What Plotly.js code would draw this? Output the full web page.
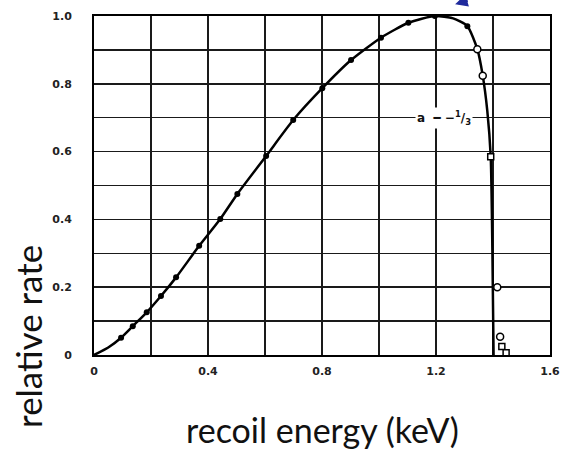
<!DOCTYPE html>
<html>
<head>
<meta charset="utf-8">
<script src="https://cdn.plot.ly/plotly-3.0.1.min.js"></script>
<style>html,body{margin:0;padding:0;background:#fff;}#chart{width:561px;height:451px;}</style>
</head>
<body>
<div id="chart"></div>
<script>
// Curve
const curveX = [0, 0.05, 0.095, 0.136, 0.185, 0.235, 0.288, 0.369, 0.443, 0.503, 0.604, 0.699, 0.801, 0.902, 1.007, 1.103, 1.196, 1.26, 1.31, 1.345, 1.364, 1.38, 1.392, 1.398, 1.402];
const curveY = [0, 0.022, 0.051, 0.085, 0.126, 0.174, 0.229, 0.322, 0.401, 0.475, 0.587, 0.693, 0.787, 0.870, 0.936, 0.980, 1.0, 0.993, 0.970, 0.902, 0.824, 0.72, 0.585, 0.3, 0];
// Filled circle data points
const filledX = [0.095, 0.136, 0.185, 0.235, 0.288, 0.369, 0.443, 0.503, 0.604, 0.699, 0.801, 0.902, 1.007, 1.103, 1.196, 1.31];
const filledY = [0.051, 0.085, 0.126, 0.174, 0.229, 0.322, 0.401, 0.475, 0.587, 0.693, 0.787, 0.870, 0.936, 0.980, 1.0, 0.970];
// Open circle data points
const openCircX = [1.345, 1.364, 1.415, 1.425];
const openCircY = [0.902, 0.824, 0.200, 0.054];
// Open square data points
const openSqX = [1.392, 1.431, 1.446];
const openSqY = [0.585, 0.025, 0.007];
// Tick labels
const xTickVals = [0, 0.4, 0.8, 1.2, 1.6];
const xTickText = ["0", "0.4", "0.8", "1.2", "1.6"];
const yTickVals = [0, 0.2, 0.4, 0.6, 0.8, 1.0];
const yTickText = ["0", "0.2", "0.4", "0.6", "0.8", "1.0"];

const traces = [
  {x: curveX, y: curveY, type: 'scatter', mode: 'lines',
   line: {color: '#000', width: 2.5, shape: 'spline', smoothing: 0.6}, hoverinfo: 'skip'},
  {x: filledX, y: filledY, type: 'scatter', mode: 'markers',
   marker: {symbol: 'circle', size: 6, color: '#000'}},
  {x: openCircX, y: openCircY, type: 'scatter', mode: 'markers',
   marker: {symbol: 'circle', size: 7, color: '#fff', line: {color: '#000', width: 1.5}}},
  {x: openSqX, y: openSqY, type: 'scatter', mode: 'markers',
   marker: {symbol: 'square', size: 6, color: '#fff', line: {color: '#000', width: 1.5}}}
];

const tickFont = {family: 'DejaVu Sans, sans-serif', size: 11, color: '#222', weight: 'bold'};
const gridCol = '#1a1a1a';

const layout = {
  width: 561, height: 451,
  margin: {l: 94, r: 11, t: 16, b: 96},
  paper_bgcolor: '#fff', plot_bgcolor: '#fff',
  showlegend: false,
  xaxis: {
    range: [0, 1.6], tickvals: xTickVals, ticktext: xTickText,
    showgrid: true, gridcolor: gridCol, gridwidth: 1.5,
    minor: {tickvals: [0.2, 0.6, 1.0, 1.4], showgrid: true, gridcolor: gridCol, gridwidth: 1.5},
    showline: true, linecolor: '#000', linewidth: 2, mirror: true,
    zeroline: false, ticks: '', ticklabelstandoff: 5,
    tickfont: tickFont, fixedrange: true
  },
  yaxis: {
    range: [0, 1.0], tickvals: yTickVals, ticktext: yTickText,
    showgrid: true, gridcolor: gridCol, gridwidth: 1.5,
    minor: {tickvals: [0.1, 0.3, 0.5, 0.7, 0.9], showgrid: true, gridcolor: gridCol, gridwidth: 1.5},
    showline: true, linecolor: '#000', linewidth: 2, mirror: true,
    zeroline: false, ticks: '', ticklabelstandoff: 18,
    tickfont: tickFont, fixedrange: true
  },
  annotations: [
    {xref: 'x', yref: 'y', x: 1.228, y: 0.70, xanchor: 'center', yanchor: 'middle',
     text: '<b>a  ━ −<sup>1</sup>/<sub>3</sub></b>', showarrow: false, bgcolor: '#fff',
     font: {family: 'DejaVu Sans, sans-serif', size: 12, color: '#111'}},
    {xref: 'paper', yref: 'paper', x: -0.145, y: 0.056, xanchor: 'center', yanchor: 'middle',
     text: 'relative rate', textangle: -90, showarrow: false,
     font: {family: 'Lato, Open Sans, sans-serif', size: 35, color: '#111'}},
    {xref: 'paper', yref: 'paper', x: 0.502, y: -0.221, xanchor: 'center', yanchor: 'middle',
     text: 'recoil energy (keV)', showarrow: false,
     font: {family: 'Lato, Open Sans, sans-serif', size: 34, color: '#111'}},
    {xref: 'paper', yref: 'paper', x: 0.792, y: 1.035, text: '', showarrow: true,
     arrowhead: 2, arrowsize: 1, arrowwidth: 2.5, arrowcolor: '#1f2a9c', ax: 14, ay: -14}
  ]
};

Plotly.newPlot('chart', traces, layout, {displayModeBar: false, staticPlot: true});
</script>
</body>
</html>
